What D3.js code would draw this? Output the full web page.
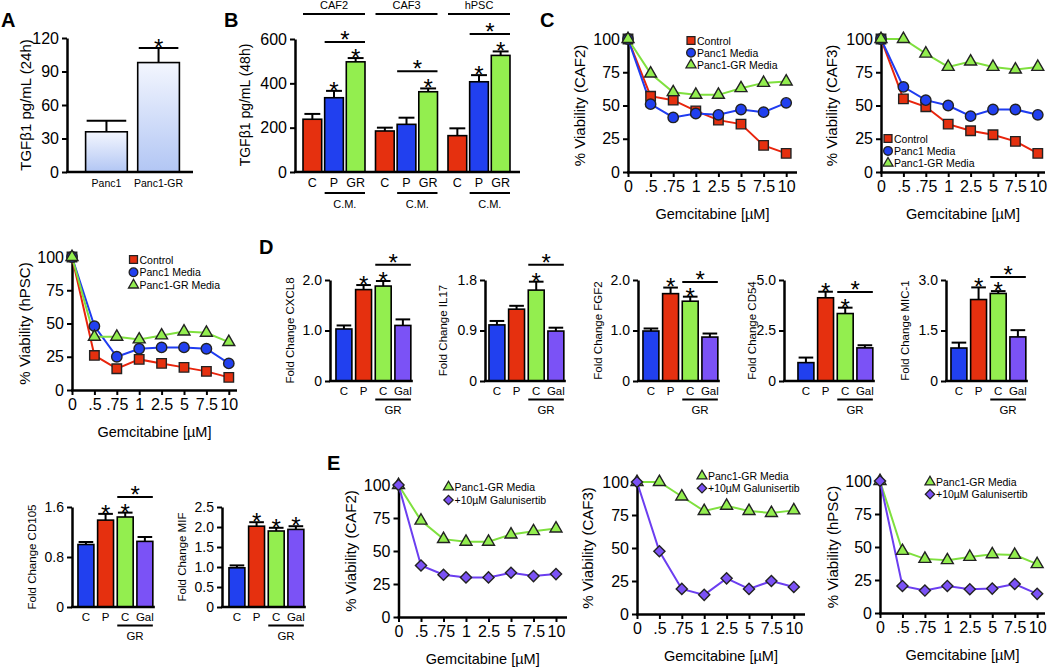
<!DOCTYPE html>
<html>
<head>
<meta charset="utf-8">
<title>TGFb1 and stroma viability</title>
<script src="https://cdn.jsdelivr.net/npm/d3@7"></script>
<style>
  body { margin: 0; background: #fff; }
  svg text { font-family: Arial, "Liberation Sans", Helvetica, sans-serif; fill: #000; }
</style>
</head>
<body>
<svg id="fig" width="1050" height="668"></svg>
<script>
// ---------- data ----------
const gemDoses = ["0", ".5", ".75", "1", "2.5", "5", "7.5", "10"];

// A: TGFb1 24h
const aGroups = ["Panc1", "Panc1-GR"];
const aMean = [36, 98];
const aErr = [10, 13];
const aStars = [1];

// B: TGFb1 48h
const bCells = ["CAF2", "CAF3", "hPSC"];
const bMedia = ["C", "P", "GR"];
const bMean = [[238, 335, 497], [185, 215, 362], [164, 407, 526]];
const bErr = [[24, 31, 17], [15, 30, 15], [33, 30, 18]];
const bStars = [[1, 2], [2], [1, 2]];
const bBracket = [586, 455, 622];

// C: viability with conditioned media
const caf2Control = [100, 57, 54, 46, 39, 36, 20, 14];
const caf2Panc1 = [100, 51, 41, 44, 43, 47, 45, 52];
const caf2GR = [100, 74, 60, 58, 58, 63, 67, 68];
const caf3Control = [100, 55, 49, 36, 31, 28, 23, 14];
const caf3Panc1 = [100, 64, 54, 50, 42, 47, 47, 43];
const caf3GR = [100, 100, 89, 79, 83, 79, 77, 79];
const hpscControl = [100, 26, 16, 23, 20, 17, 14, 9.5];
const hpscPanc1 = [100, 48, 25, 31, 32, 32, 31, 20];
const hpscGR = [100, 40, 40, 38, 41, 44, 43, 36];

// D: fold change
const dBars = ["C", "P", "C", "Gal"];
const cxcl8 = [1.03, 1.81, 1.88, 1.10], cxcl8Err = [0.07, 0.09, 0.10, 0.12];
const il17 = [1.00, 1.28, 1.62, 0.89], il17Err = [0.07, 0.06, 0.15, 0.06];
const fgf2 = [0.99, 1.73, 1.58, 0.87], fgf2Err = [0.05, 0.12, 0.09, 0.07];
const cd54 = [0.91, 4.12, 3.34, 1.64], cd54Err = [0.25, 0.30, 0.29, 0.13];
const mic1 = [0.98, 2.42, 2.60, 1.31], mic1Err = [0.16, 0.36, 0.07, 0.20];
const cd105 = [1.00, 1.39, 1.44, 1.05], cd105Err = [0.04, 0.10, 0.07, 0.07];
const mif = [0.98, 2.02, 1.90, 1.94], mifErr = [0.06, 0.10, 0.08, 0.08];

// E: + galunisertib
const eCaf2GR = [100, 73, 59, 57, 57, 62.5, 65, 67];
const eCaf2Gal = [100, 39, 32, 30, 30, 33.5, 31, 32.5];
const eCaf3GR = [100, 100, 89, 78, 82, 78, 76.5, 78.5];
const eCaf3Gal = [100, 47.5, 19, 14.5, 27, 19, 25, 20.5];
const eHpscGR = [100, 47, 41, 40, 42.5, 44.5, 44, 37];
const eHpscGal = [100, 20.5, 17, 20.5, 18, 18.5, 22, 14.5];

// ---------- style ----------
const RED = "#e5300f", BLUE = "#2140ef", GREEN = "#93ee4f", PURPLE = "#7b52f6";
const LRED = "#e8240c", LBLUE = "#1f3cf0", LGREEN = "#7fe03e", LPURPLE = "#6b3ef0";

const svg = d3.select("#fig");

const defs = svg.append("defs");
const grad = defs.append("linearGradient").attr("id", "aGrad").attr("x1", 0).attr("x2", 0).attr("y1", 0).attr("y2", 1);
grad.append("stop").attr("offset", "0%").attr("stop-color", "#f3f6fe");
grad.append("stop").attr("offset", "100%").attr("stop-color", "#b2c6f4");

function letter(t, x, y) {
  svg.append("text").attr("x", x).attr("y", y).attr("font-size", 20).attr("font-weight", "bold").text(t);
}

function yAxis(y, x, ticks, fmt, fs) {
  const ax = svg.append("g").attr("transform", `translate(${x},0)`)
    .call(d3.axisLeft(y).tickValues(ticks).tickFormat(fmt).tickSize(5).tickSizeOuter(0).tickPadding(3));
  ax.select(".domain").attr("stroke-width", 2.5);
  ax.selectAll(".tick line").attr("stroke-width", 2);
  ax.selectAll("text").attr("font-size", fs).attr("font-family", null);
}

function yTitle(t, x, y, fs) {
  svg.append("text").attr("transform", `translate(${x},${y}) rotate(-90)`)
    .attr("text-anchor", "middle").attr("dominant-baseline", "central")
    .attr("font-size", fs).text(t);
}

function hline(x1, x2, y, w) {
  svg.append("line").attr("x1", x1).attr("x2", x2).attr("y1", y).attr("y2", y)
    .attr("stroke", "#000").attr("stroke-width", w || 2);
}

function star(x, cy) {
  // cy is where the glyph centre should sit
  svg.append("text").attr("x", x).attr("y", cy + 0.58 * 24).attr("text-anchor", "middle")
    .attr("font-size", 24).text("*");
}

// bars: [{x, w, v, e, fill}]
function drawBars(bars, y, capFrac) {
  const g = svg.append("g");
  bars.forEach(b => {
    const top = y(b.v), et = y(b.v + b.e), cx = b.x + b.w / 2, cw = b.w * capFrac;
    g.append("line").attr("x1", cx).attr("x2", cx).attr("y1", top).attr("y2", et)
      .attr("stroke", "#000").attr("stroke-width", 2);
    g.append("line").attr("x1", cx - cw / 2).attr("x2", cx + cw / 2).attr("y1", et).attr("y2", et)
      .attr("stroke", "#000").attr("stroke-width", 2);
    g.append("rect").attr("x", b.x).attr("y", top).attr("width", b.w).attr("height", y(0) - top)
      .attr("fill", b.fill).attr("stroke", "#000").attr("stroke-width", 1.6);
  });
}

// ---------- A ----------
letter("A", 1, 27);
{
  const y = d3.scaleLinear().domain([0, 120]).range([172, 38]);
  const x = d3.scaleBand().domain(aGroups).range([83, 182]).paddingInner(0.2).paddingOuter(0.05);
  const bars = aGroups.map((k, i) => ({ x: x(k), w: x.bandwidth(), v: aMean[i], e: aErr[i], fill: "url(#aGrad)" }));
  drawBars(bars, y, 0.95);
  hline(66, 193, 172, 2.5);
  yAxis(y, 67, [0, 30, 60, 90, 120], d3.format("d"), 16);
  yTitle("TGF\u03b21 pg/mL (24h)", 25, 105, 15);
  aGroups.forEach(k => svg.append("text").attr("x", x(k) + x.bandwidth() / 2).attr("y", 187)
    .attr("text-anchor", "middle").attr("font-size", 10.5).text(k));
  aStars.forEach(i => star(bars[i].x + bars[i].w / 2, y(aMean[i] + aErr[i]) - 6));
}

// ---------- B ----------
letter("B", 224, 27);
{
  const y = d3.scaleLinear().domain([0, 600]).range([172, 39]);
  const outer = d3.scaleBand().domain(bCells).range([297.75, 515.25]).paddingInner(0.145).paddingOuter(0.0725);
  const inner = d3.scaleBand().domain(bMedia).range([0, outer.bandwidth()]).paddingInner(0.136);
  const fills = [RED, BLUE, GREEN];
  bCells.forEach((c, ci) => {
    const gx = outer(c);
    const bars = bMedia.map((m, mi) => ({ x: gx + inner(m), w: inner.bandwidth(), v: bMean[ci][mi], e: bErr[ci][mi], fill: fills[mi] }));
    drawBars(bars, y, 0.85);
    bars.forEach((b, mi) => svg.append("text").attr("x", b.x + b.w / 2).attr("y", 187)
      .attr("text-anchor", "middle").attr("font-size", 12.5).text(bMedia[mi]));
    // cell line header
    hline(gx, gx + outer.bandwidth(), 14);
    svg.append("text").attr("x", gx + outer.bandwidth() / 2).attr("y", 9).attr("text-anchor", "middle")
      .attr("font-size", 11).text(c);
    // conditioned media underline
    hline(bars[1].x, bars[2].x + bars[2].w, 193);
    svg.append("text").attr("x", (bars[1].x + bars[2].x + bars[2].w) / 2).attr("y", 208)
      .attr("text-anchor", "middle").attr("font-size", 11).text("C.M.");
    bStars[ci].forEach(i => star(bars[i].x + bars[i].w / 2, y(bMean[ci][i] + bErr[ci][i]) - 6));
    const by = y(bBracket[ci]);
    hline(bars[1].x, bars[2].x + bars[2].w, by);
    star((bars[1].x + bars[2].x + bars[2].w) / 2, by - 8);
  });
  hline(294, 520, 172, 2.5);
  yAxis(y, 295, [0, 200, 400, 600], d3.format("d"), 16);
  yTitle("TGF\u03b21 pg/mL (48h)", 245, 105, 14);
}

// ---------- line panels ----------
const diamond = { draw(ctx, size) { const r = Math.sqrt(size / 2); ctx.moveTo(0, -r); ctx.lineTo(r, 0); ctx.lineTo(0, r); ctx.lineTo(-r, 0); ctx.closePath(); } };
const shapes = {
  square: [d3.symbolSquare, 90],
  circle: [d3.symbolCircle, 85],
  triangle: [d3.symbolTriangle, 62],
  diamond: [diamond, 62]
};

function linePanel(L, series) {
  const x = d3.scalePoint().domain(gemDoses).range([L.ax, L.ax + 7 * L.step]);
  const y = d3.scaleLinear().domain([0, 100]).range([L.bot, L.top]);
  // x axis
  const xa = svg.append("g").attr("transform", `translate(0,${L.bot})`)
    .call(d3.axisBottom(x).tickSize(5).tickSizeOuter(0).tickPadding(4));
  xa.select(".domain").remove();
  xa.selectAll(".tick line").attr("stroke-width", 2);
  xa.selectAll("text").attr("font-size", 16).attr("font-family", null);
  hline(L.ax - 1, L.axEnd, L.bot + 0.5, 2.5);
  yAxis(y, L.ax, [0, 25, 50, 75, 100], d3.format("d"), 16);
  yTitle(L.title, L.titleX, (L.top + L.bot) / 2, 15);
  svg.append("text").attr("x", (L.ax + L.axEnd) / 2).attr("y", L.bot + 47).attr("text-anchor", "middle")
    .attr("font-size", 14.5).text("Gemcitabine [\u00b5M]");
  const line = d3.line().x((d, i) => x(gemDoses[i])).y(d => y(d));
  series.forEach(s => svg.append("path").attr("d", line(s.values)).attr("fill", "none")
    .attr("stroke", s.line).attr("stroke-width", 2));
  series.forEach(s => {
    const sh = shapes[s.shape];
    svg.append("g").selectAll("path").data(s.values).join("path")
      .attr("transform", (d, i) => `translate(${x(gemDoses[i])},${y(d)})`)
      .attr("d", d3.symbol(sh[0], sh[1]))
      .attr("fill", s.fill).attr("stroke", "#222").attr("stroke-width", 1.4);
  });
  // legend
  series.forEach((s, i) => {
    const sh = shapes[s.shape];
    const ly = L.legY + i * L.legDy;
    svg.append("path").attr("transform", `translate(${L.legX},${ly})`).attr("d", d3.symbol(sh[0], sh[1] * 0.7))
      .attr("fill", s.fill).attr("stroke", "#222").attr("stroke-width", 1.3);
    svg.append("text").attr("x", L.legX + 6).attr("y", ly).attr("dominant-baseline", "central")
      .attr("font-size", 10.5).text(s.name);
  });
}

function cmSeries(ctrl, p1, gr) {
  return [
    { name: "Control", values: ctrl, fill: RED, line: LRED, shape: "square" },
    { name: "Panc1 Media", values: p1, fill: BLUE, line: LBLUE, shape: "circle" },
    { name: "Panc1-GR Media", values: gr, fill: GREEN, line: LGREEN, shape: "triangle" }
  ];
}
function galSeries(gr, gal) {
  return [
    { name: "Panc1-GR Media", values: gr, fill: GREEN, line: LGREEN, shape: "triangle" },
    { name: "+10\u00b5M Galunisertib", values: gal, fill: PURPLE, line: LPURPLE, shape: "diamond" }
  ];
}

letter("C", 540, 27);
linePanel({ ax: 628, step: 22.6, top: 39, bot: 172, axEnd: 797, title: "% Viability (CAF2)", titleX: 579, legX: 691, legY: 40.5, legDy: 12.2 },
  cmSeries(caf2Control, caf2Panc1, caf2GR));
linePanel({ ax: 881, step: 22.4, top: 39, bot: 172, axEnd: 1045, title: "% Viability (CAF3)", titleX: 831, legX: 888, legY: 138.5, legDy: 12.4 },
  cmSeries(caf3Control, caf3Panc1, caf3GR));
linePanel({ ax: 72, step: 22.4, top: 257, bot: 390, axEnd: 237, title: "% Viability (hPSC)", titleX: 24, legX: 133.5, legY: 259.5, legDy: 12.8 },
  cmSeries(hpscControl, hpscPanc1, hpscGR));

letter("E", 327, 470);
linePanel({ ax: 398.5, step: 22.5, top: 485, bot: 617, axEnd: 567, title: "% Viability (CAF2)", titleX: 350, legX: 448.5, legY: 487, legDy: 13 },
  galSeries(eCaf2GR, eCaf2Gal));
linePanel({ ax: 637, step: 22.4, top: 482, bot: 614, axEnd: 805, title: "% Viability (CAF3)", titleX: 587, legX: 702, legY: 476, legDy: 12.2 },
  galSeries(eCaf3GR, eCaf3Gal));
linePanel({ ax: 880, step: 22.45, top: 481, bot: 613, axEnd: 1045, title: "% Viability (hPSC)", titleX: 832, legX: 930, legY: 482, legDy: 12.2 },
  galSeries(eHpscGR, eHpscGal));

// ---------- D (fold change bars) ----------
letter("D", 259, 254);
const dFills = [BLUE, RED, GREEN, PURPLE];
function foldPanel(L, mean, err, ticks, stars, bracket) {
  const y = d3.scaleLinear().domain([0, ticks[ticks.length - 1]]).range([L.bot, L.top]);
  const step = 19.7;
  const x = d3.scaleBand().domain(d3.range(4)).range([L.x0 - 2, L.x0 - 2 + 4 * step]).paddingInner(0.19).paddingOuter(0.1);
  const bars = mean.map((v, i) => ({ x: x(i), w: x.bandwidth(), v: v, e: err[i], fill: dFills[i] }));
  drawBars(bars, y, 0.92);
  const end = bars[3].x + bars[3].w + 2;
  hline(L.ax - 1, end, L.bot, 2.5);
  yAxis(y, L.ax, ticks, d => d === 0 ? "0" : d3.format(".1f")(d), 14);
  yTitle(L.title, L.titleX, (L.top + L.bot) / 2, 11.5);
  bars.forEach((b, i) => svg.append("text").attr("x", b.x + b.w / 2).attr("y", L.bot + 14)
    .attr("text-anchor", "middle").attr("font-size", 11.5).text(dBars[i]));
  hline(bars[2].x, bars[3].x + bars[3].w, L.bot + 18.5);
  svg.append("text").attr("x", (bars[2].x + bars[3].x + bars[3].w) / 2).attr("y", L.bot + 33)
    .attr("text-anchor", "middle").attr("font-size", 11.5).text("GR");
  stars.forEach(i => star(bars[i].x + bars[i].w / 2, y(mean[i] + err[i]) - 6));
  if (bracket) {
    const by = y(bracket[2]);
    hline(bars[bracket[0]].x, bars[bracket[1]].x + bars[bracket[1]].w, by);
    star((bars[bracket[0]].x + bars[bracket[1]].x + bars[bracket[1]].w) / 2, by - 8);
  }
}

foldPanel({ ax: 330, x0: 336, top: 280, bot: 381, title: "Fold Change CXCL8", titleX: 290 }, cxcl8, cxcl8Err, [0, 1, 2], [1, 2], [2, 3, 2.3]);
foldPanel({ ax: 485, x0: 489, top: 280, bot: 381, title: "Fold Change IL17", titleX: 443 }, il17, il17Err, [0, 0.9, 1.8], [2], [2, 3, 2.07]);
foldPanel({ ax: 638, x0: 643, top: 280, bot: 381, title: "Fold Change FGF2", titleX: 598 }, fgf2, fgf2Err, [0, 1, 2], [1, 2], [2, 3, 1.96]);
foldPanel({ ax: 784, x0: 798, top: 280, bot: 381, title: "Fold Change CD54", titleX: 752 }, cd54, cd54Err, [0, 2.5, 5], [1, 2], [2, 3, 4.4]);
foldPanel({ ax: 946, x0: 951, top: 280, bot: 381, title: "Fold Change MIC-1", titleX: 905 }, mic1, mic1Err, [0, 1.5, 3], [1, 2], [2, 3, 3.09]);
foldPanel({ ax: 72, x0: 78, top: 507, bot: 607, title: "Fold Change CD105", titleX: 32 }, cd105, cd105Err, [0, 0.8, 1.6], [1, 2], [2, 3, 1.76]);
foldPanel({ ax: 222, x0: 229, top: 507, bot: 607, title: "Fold Change MIF", titleX: 182 }, mif, mifErr, [0, 0.5, 1, 1.5, 2, 2.5], [1, 2, 3], null);
</script>
</body>
</html>
